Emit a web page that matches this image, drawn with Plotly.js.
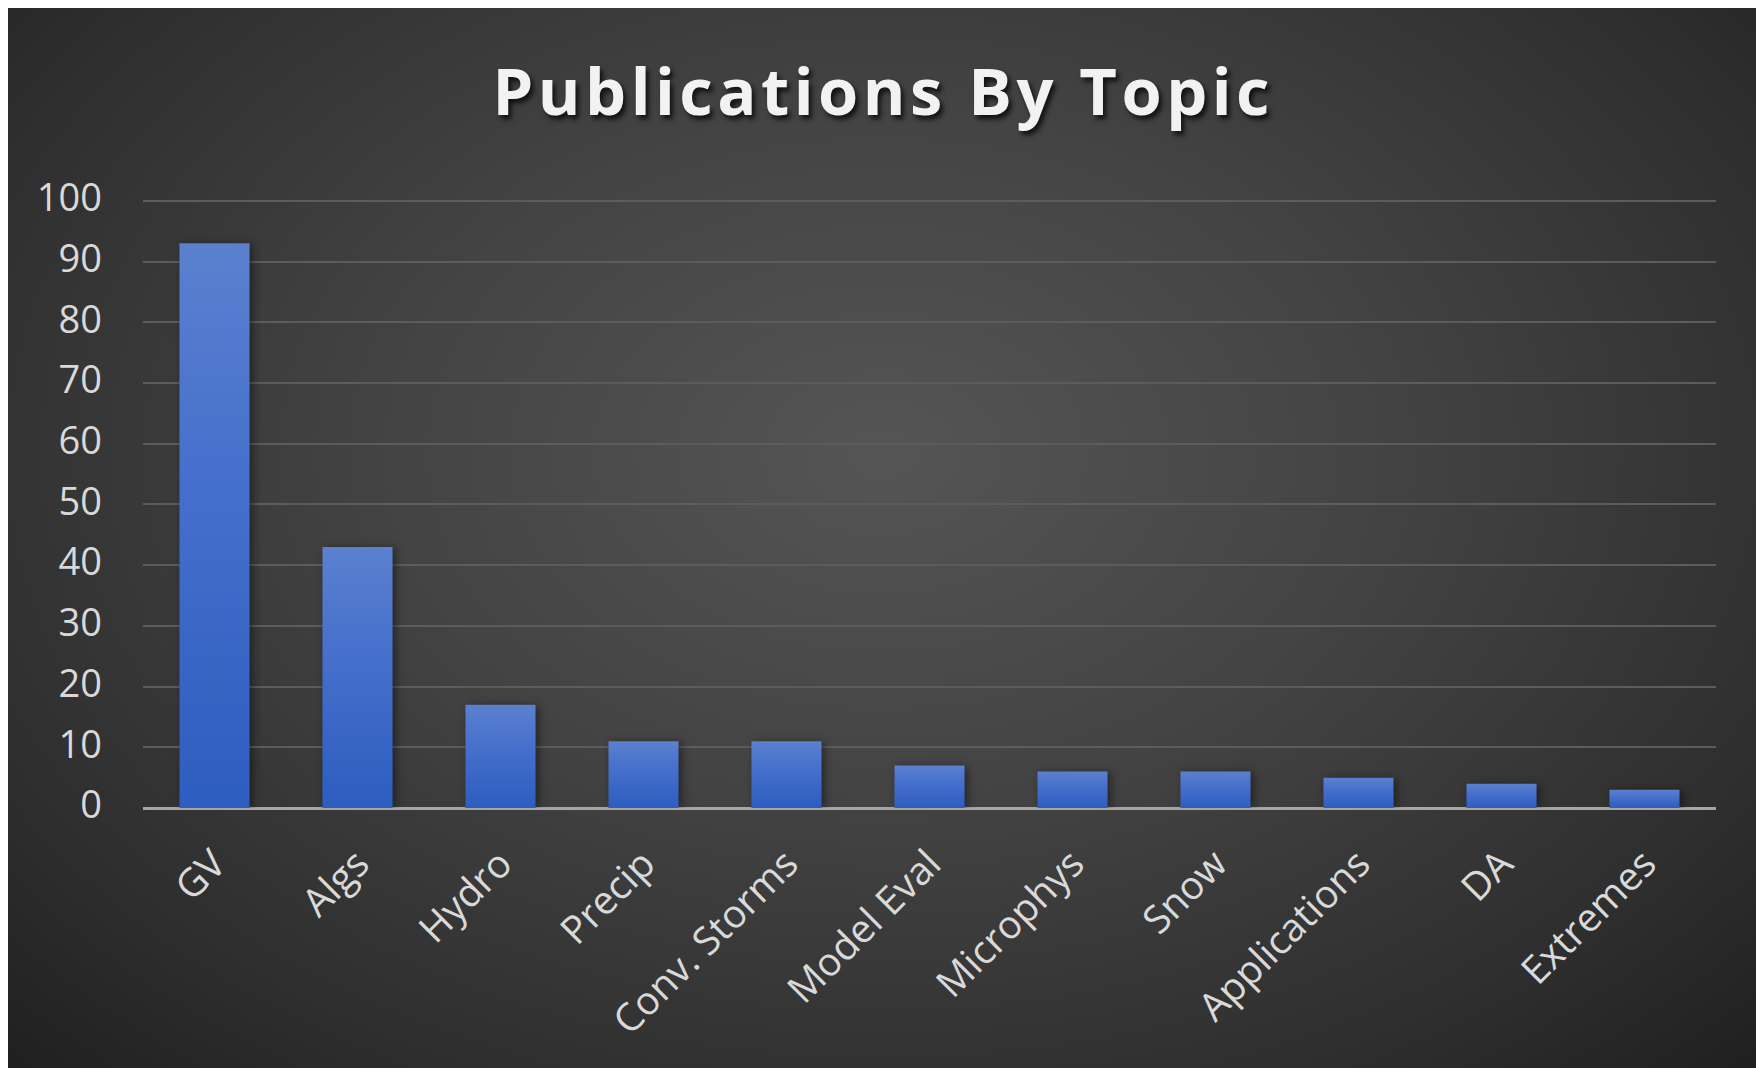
<!DOCTYPE html>
<html>
<head>
<meta charset="utf-8">
<script src="https://cdn.plot.ly/plotly-3.0.1.min.js"></script>
<style>
  html, body { margin: 0; padding: 0; background: #ffffff; }
  #bg { position: absolute; left: 8px; top: 8px; width: 1748px; height: 1060px;
        background: radial-gradient(ellipse 72% 82% at 50% 42%, #555555 0%, #434343 40%, #2e2e2e 78%, #1f1f1f 100%); }
  #chart { position: absolute; left: 0; top: 0; width: 1756px; height: 1068px; }
  #chart .gtitle { letter-spacing: 4.5px; }
</style>
</head>
<body>
<div id="bg"></div>
<div id="chart"></div>
<script>
const topics = ["GV", "Algs", "Hydro", "Precip", "Conv. Storms", "Model Eval", "Microphys", "Snow", "Applications", "DA", "Extremes"];
const publications = [93, 43, 17, 11, 11, 7, 6, 6, 5, 4, 3];
const yTicks = [0, 10, 20, 30, 40, 50, 60, 70, 80, 90, 100];

const trace = {
  type: "bar",
  x: topics,
  y: publications,
  marker: { color: "#3f6ccb", line: { width: 0 } },
  hoverinfo: "x+y"
};

const layout = {
  width: 1756,
  height: 1068,
  paper_bgcolor: "rgba(0,0,0,0)",
  plot_bgcolor: "rgba(0,0,0,0)",
  margin: { l: 143, r: 40, t: 199, b: 260 },
  bargap: 0.51,
  showlegend: false,
  title: {
    text: "Publications By Topic",
    x: 0.503, xref: "container", xanchor: "center",
    y: 0.914, yref: "container", yanchor: "middle",
    font: { family: "Open Sans, Lato, sans-serif", size: 65, color: "#f2f2f2", weight: 700,
            shadow: "3px 4px 5px rgba(0,0,0,0.75)" }
  },
  xaxis: {
    type: "category",
    tickangle: -45,
    showgrid: false,
    showline: false,
    zeroline: false,
    ticks: "",
    ticklabelstandoff: 24,
    tickfont: { family: "Open Sans, Lato, sans-serif", size: 39, color: "#d9d9d9" }
  },
  yaxis: {
    range: [0, 100.3],
    tickvals: yTicks,
    ticktext: yTicks.map(String),
    showgrid: true,
    gridcolor: "#5c5c5c",
    gridwidth: 2,
    zeroline: true,
    zerolinecolor: "#a6a6a6",
    zerolinewidth: 3,
    showline: false,
    ticks: "",
    ticklabelstandoff: 40,
    tickfont: { family: "Open Sans, Lato, sans-serif", size: 38, color: "#d9d9d9" }
  }
};

Plotly.newPlot("chart", [trace], layout, { staticPlot: true, displayModeBar: false }).then(function (gd) {
  const svg = gd.querySelector("svg.main-svg");
  const ns = "http://www.w3.org/2000/svg";
  let defs = svg.querySelector("defs");
  if (!defs) { defs = document.createElementNS(ns, "defs"); svg.insertBefore(defs, svg.firstChild); }
  const g = document.createElementNS(ns, "linearGradient");
  g.setAttribute("id", "barGrad");
  g.setAttribute("x1", "0"); g.setAttribute("y1", "0");
  g.setAttribute("x2", "0"); g.setAttribute("y2", "1");
  [["0%", "#5b80cf"], ["40%", "#4670cc"], ["100%", "#2d5dc0"]].forEach(function (s) {
    const st = document.createElementNS(ns, "stop");
    st.setAttribute("offset", s[0]); st.setAttribute("stop-color", s[1]);
    g.appendChild(st);
  });
  defs.appendChild(g);
  gd.querySelectorAll(".bars .point path").forEach(function (p) {
    p.style.fill = "url(#barGrad)";
    p.style.filter = "drop-shadow(3px 1px 4px rgba(0,0,0,0.45))";
  });
  gd.querySelectorAll(".ytick text").forEach(function (t) {
    t.setAttribute("dy", "-3");
  });
});
</script>
</body>
</html>
